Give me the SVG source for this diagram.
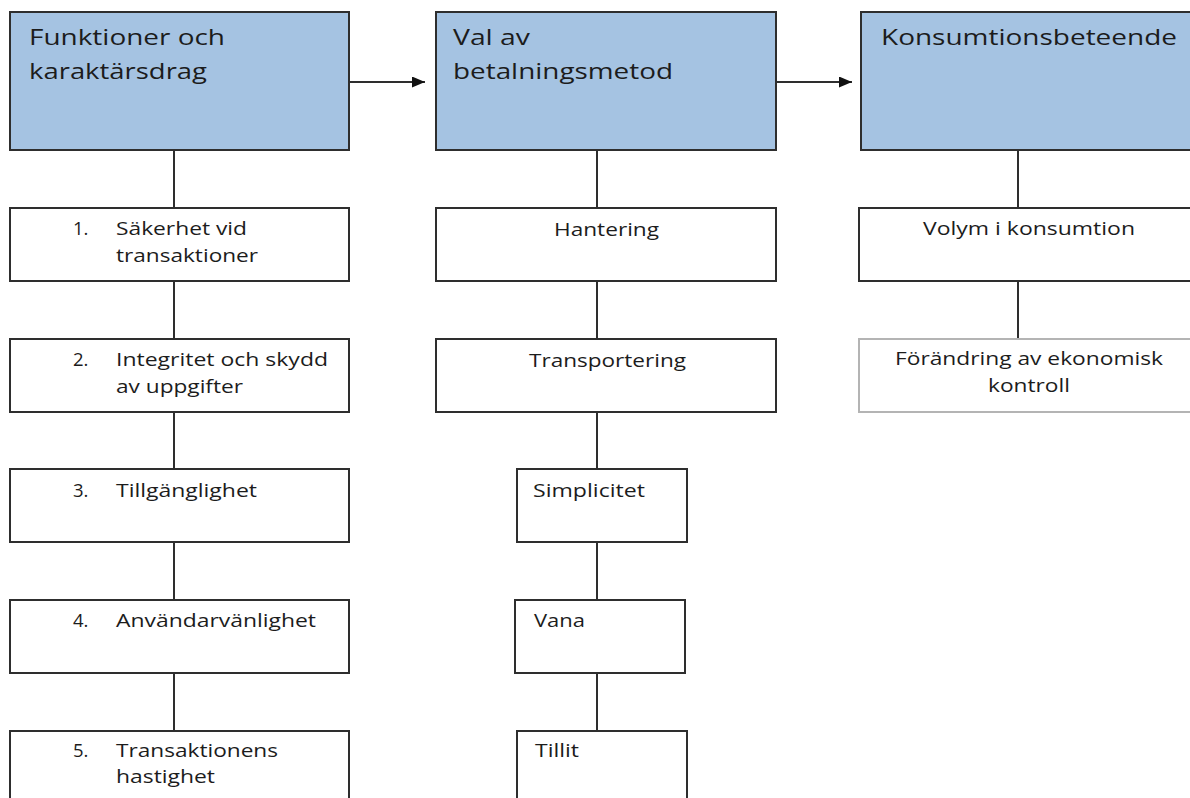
<svg xmlns="http://www.w3.org/2000/svg" width="1190" height="798" viewBox="0 0 1190 798">
<style>
.hdr{fill:#a5c3e2;stroke:#2e2e2e;stroke-width:2}
.box{fill:#ffffff;stroke:#2e2e2e;stroke-width:2}
.boxl{fill:#ffffff;stroke:#b4b4b4;stroke-width:2}
.ht{font-family:"Open Sans","Liberation Sans",sans-serif;font-size:21px;fill:#1c1c1c}
.t{font-family:"Open Sans","Liberation Sans",sans-serif;font-size:18.5px;fill:#1c1c1c}
.ln{stroke:#2e2e2e;stroke-width:2;fill:none}
</style>
<defs>
<marker id="arr" markerWidth="13" markerHeight="11" refX="13" refY="5.5" orient="auto" markerUnits="userSpaceOnUse">
<path d="M0,0 L13,5.5 L0,11 z" fill="#111"/>
</marker>
</defs>
<rect width="1190" height="798" fill="#ffffff"/>
<g id="connectors">
<line class="ln" x1="349" y1="82" x2="425" y2="82" marker-end="url(#arr)"/>
<line class="ln" x1="776" y1="82" x2="852" y2="82" marker-end="url(#arr)"/>
<line class="ln" x1="174" y1="150" x2="174" y2="208"/>
<line class="ln" x1="174" y1="281" x2="174" y2="339"/>
<line class="ln" x1="174" y1="412" x2="174" y2="469"/>
<line class="ln" x1="174" y1="542" x2="174" y2="600"/>
<line class="ln" x1="174" y1="673" x2="174" y2="731"/>
<line class="ln" x1="597" y1="150" x2="597" y2="208"/>
<line class="ln" x1="597" y1="281" x2="597" y2="339"/>
<line class="ln" x1="597" y1="412" x2="597" y2="469"/>
<line class="ln" x1="597" y1="542" x2="597" y2="600"/>
<line class="ln" x1="597" y1="673" x2="597" y2="731"/>
<line class="ln" x1="1018" y1="150" x2="1018" y2="208"/>
<line class="ln" x1="1018" y1="281" x2="1018" y2="339"/>
</g>
<g id="n-funktioner">
<rect class="hdr" x="10" y="12" width="339" height="138"/>
<text class="ht" x="29" y="45" textLength="196" lengthAdjust="spacingAndGlyphs">Funktioner och</text>
<text class="ht" x="29" y="79" textLength="178" lengthAdjust="spacingAndGlyphs">karaktärsdrag</text>
</g>
<g id="n-val">
<rect class="hdr" x="436" y="12" width="340" height="138"/>
<text class="ht" x="453" y="45" textLength="77" lengthAdjust="spacingAndGlyphs">Val av</text>
<text class="ht" x="453" y="79" textLength="220" lengthAdjust="spacingAndGlyphs">betalningsmetod</text>
</g>
<g id="n-konsumtion">
<rect class="hdr" x="861" y="12" width="340" height="138"/>
<text class="ht" x="881" y="45" textLength="296" lengthAdjust="spacingAndGlyphs">Konsumtionsbeteende</text>
</g>
<g id="n-1">
<rect class="box" x="10" y="208" width="339" height="73"/>
<text class="t" x="73" y="235">1.</text>
<text class="t" x="116" y="235" textLength="131" lengthAdjust="spacingAndGlyphs">Säkerhet vid</text>
<text class="t" x="116" y="262" textLength="142" lengthAdjust="spacingAndGlyphs">transaktioner</text>
</g>
<g id="n-2">
<rect class="box" x="10" y="339" width="339" height="73"/>
<text class="t" x="73" y="366">2.</text>
<text class="t" x="116" y="366" textLength="212" lengthAdjust="spacingAndGlyphs">Integritet och skydd</text>
<text class="t" x="116" y="393" textLength="127" lengthAdjust="spacingAndGlyphs">av uppgifter</text>
</g>
<g id="n-3">
<rect class="box" x="10" y="469" width="339" height="73"/>
<text class="t" x="73" y="497">3.</text>
<text class="t" x="116" y="497" textLength="141" lengthAdjust="spacingAndGlyphs">Tillgänglighet</text>
</g>
<g id="n-4">
<rect class="box" x="10" y="600" width="339" height="73"/>
<text class="t" x="73" y="627">4.</text>
<text class="t" x="116" y="627" textLength="200" lengthAdjust="spacingAndGlyphs">Användarvänlighet</text>
</g>
<g id="n-5">
<rect class="box" x="10" y="731" width="339" height="80"/>
<text class="t" x="73" y="757">5.</text>
<text class="t" x="116" y="757" textLength="162" lengthAdjust="spacingAndGlyphs">Transaktionens</text>
<text class="t" x="116" y="783" textLength="99" lengthAdjust="spacingAndGlyphs">hastighet</text>
</g>
<g id="n-hantering">
<rect class="box" x="436" y="208" width="340" height="73"/>
<text class="t" x="554" y="236" textLength="105" lengthAdjust="spacingAndGlyphs">Hantering</text>
</g>
<g id="n-transportering">
<rect class="box" x="436" y="339" width="340" height="73"/>
<text class="t" x="529" y="367" textLength="157" lengthAdjust="spacingAndGlyphs">Transportering</text>
</g>
<g id="n-simplicitet">
<rect class="box" x="517" y="469" width="170" height="73"/>
<text class="t" x="533" y="497" textLength="112" lengthAdjust="spacingAndGlyphs">Simplicitet</text>
</g>
<g id="n-vana">
<rect class="box" x="515" y="600" width="170" height="73"/>
<text class="t" x="534" y="627" textLength="51" lengthAdjust="spacingAndGlyphs">Vana</text>
</g>
<g id="n-tillit">
<rect class="box" x="517" y="731" width="170" height="80"/>
<text class="t" x="535" y="757" textLength="44" lengthAdjust="spacingAndGlyphs">Tillit</text>
</g>
<g id="n-volym">
<rect class="box" x="859" y="208" width="342" height="73"/>
<text class="t" x="923" y="235" textLength="212" lengthAdjust="spacingAndGlyphs">Volym i konsumtion</text>
</g>
<g id="n-forandring">
<rect class="boxl" x="859" y="339" width="342" height="73"/>
<text class="t" x="895" y="365" textLength="268" lengthAdjust="spacingAndGlyphs">Förändring av ekonomisk</text>
<text class="t" x="988" y="392" textLength="82" lengthAdjust="spacingAndGlyphs">kontroll</text>
</g>
</svg>
